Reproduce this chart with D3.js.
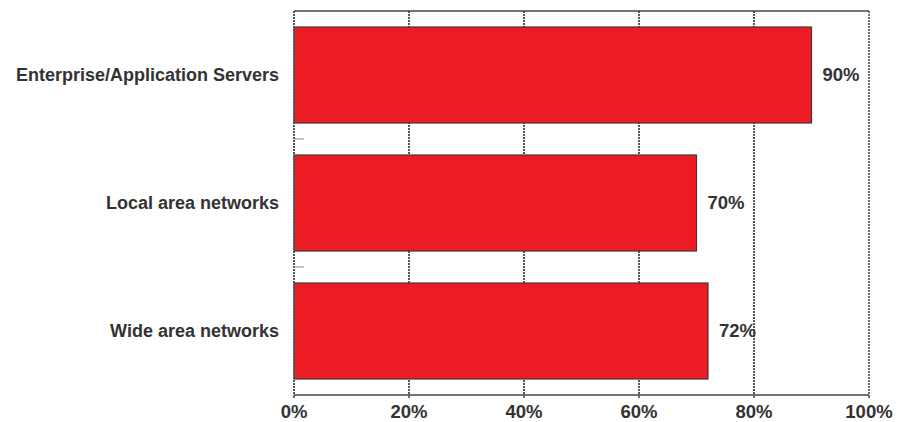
<!doctype html>
<html>
<head>
<script src="https://d3js.org/d3.v7.min.js"></script>
<style>
body { margin: 0; background: #fff; }
text { font-family: "Liberation Sans", Arial, sans-serif; font-weight: bold; fill: #333; }
</style>
</head>
<body>
<svg id="chart" width="899" height="422"></svg>
<script>
var categories = ["Enterprise/Application Servers", "Local area networks", "Wide area networks"];
var values = [90, 70, 72];
var tickValues = [0, 20, 40, 60, 80, 100];

var margin = {top: 11, right: 30, bottom: 27, left: 294};
var svg = d3.select("#chart");
var width = 899 - margin.left - margin.right,
	height = 422 - margin.top - margin.bottom;

var g = svg.append("g").attr("transform", "translate(" + margin.left + "," + margin.top + ")");

var x = d3.scaleLinear().domain([0, 100]).range([0, width]);
var y = d3.scaleBand().domain(categories).range([0, height]).paddingInner(0.25).paddingOuter(0.125);

// dotted gridlines
g.selectAll(".grid").data(tickValues.slice(1, -1)).enter().append("line")
	.attr("x1", function(d) { return x(d); }).attr("x2", function(d) { return x(d); })
	.attr("y1", 0).attr("y2", height)
	.attr("stroke", "#222").attr("stroke-width", 1.5).attr("stroke-dasharray", "2,1");

// frame
g.append("line").attr("x1", 0).attr("x2", width).attr("y1", 0).attr("y2", 0).attr("stroke", "#444").attr("stroke-width", 1.5);
g.append("line").attr("x1", 0).attr("x2", width).attr("y1", height).attr("y2", height).attr("stroke", "#444").attr("stroke-width", 1.5);
g.append("line").attr("x1", width).attr("x2", width).attr("y1", 0).attr("y2", height).attr("stroke", "#444").attr("stroke-width", 1.5).attr("stroke-dasharray", "2,1");

// bars
g.selectAll(".bar").data(values).enter().append("rect")
	.attr("x", 0)
	.attr("y", function(d, i) { return y(categories[i]); })
	.attr("width", function(d) { return x(d); })
	.attr("height", y.bandwidth())
	.attr("fill", "#ed1c24").attr("stroke", "#3a3a3a").attr("stroke-width", 1.2);

// left axis
g.append("line").attr("x1", 0).attr("x2", 0).attr("y1", 0).attr("y2", height).attr("stroke", "#555").attr("stroke-width", 2).attr("stroke-dasharray", "2,1");

// category separators
var seps = categories.slice(1).map(function(c) { return y(c) - y.step() * y.paddingInner() / 2; });
g.selectAll(".sep").data(seps).enter().append("line")
	.attr("x1", 0).attr("x2", 10).attr("y1", function(d) { return d; }).attr("y2", function(d) { return d; })
	.attr("stroke", "#888").attr("stroke-width", 1);

// bottom ticks
g.selectAll(".xt").data(tickValues).enter().append("line")
	.attr("x1", function(d) { return x(d); }).attr("x2", function(d) { return x(d); })
	.attr("y1", height).attr("y2", height + 3).attr("stroke", "#444").attr("stroke-width", 1.5);

// category labels
g.selectAll(".cat").data(categories).enter().append("text")
	.attr("x", -15)
	.attr("y", function(d) { return y(d) + y.bandwidth() / 2; })
	.attr("dy", "0.35em").attr("text-anchor", "end")
	.style("font-size", "18px")
	.text(function(d) { return d; });

// value labels
g.selectAll(".val").data(values).enter().append("text")
	.attr("x", function(d) { return x(d) + 11; })
	.attr("y", function(d, i) { return y(categories[i]) + y.bandwidth() / 2; })
	.attr("dy", "0.35em")
	.style("font-size", "18.5px")
	.text(function(d) { return d + "%"; });

// x tick labels
g.selectAll(".xl").data(tickValues).enter().append("text")
	.attr("x", function(d) { return x(d); })
	.attr("y", height + 23)
	.attr("text-anchor", "middle")
	.style("font-size", "18.5px")
	.text(function(d) { return d + "%"; });
</script>
</body>
</html>
